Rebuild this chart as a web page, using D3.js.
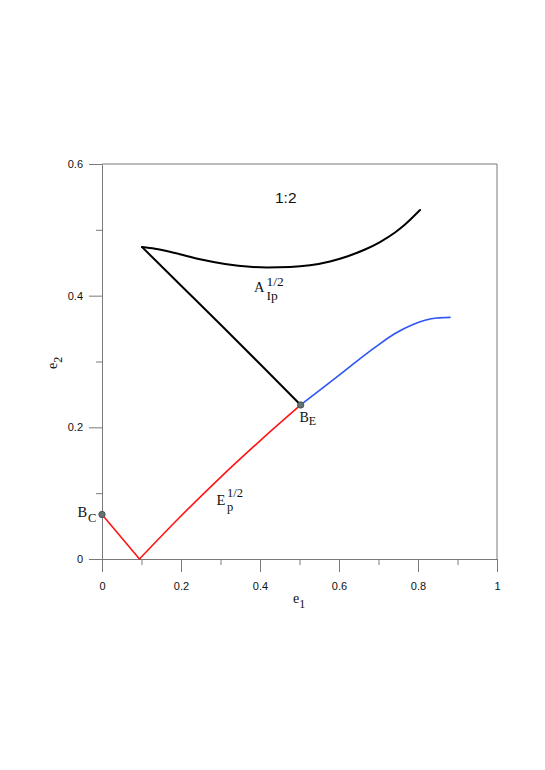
<html lang="en">
<head>
    <meta charset="utf-8">
    <title>1:2 resonance branches</title>
    <style>
        body {
            margin: 0;
            background-color: white;
        }
        .tick text {
            font-family: "Liberation Sans", Arial, sans-serif;
            font-size: 11px;
            fill: #111;
        }
        .math {
            font-family: "Liberation Serif", "Times New Roman", serif;
            fill: #111;
        }
    </style>
</head>
<body>
<div id="chart"></div>
<script src="https://d3js.org/d3.v7.min.js"></script>
<script>
    // axis ticks
    var e1Major = [0, 0.2, 0.4, 0.6, 0.8, 1];
    var e1MajorLabels = ["0", "0.2", "0.4", "0.6", "0.8", "1"];
    var e1Minor = [0.1, 0.3, 0.5, 0.7, 0.9];
    var e2Major = [0, 0.2, 0.4, 0.6];
    var e2MajorLabels = ["0", "0.2", "0.4", "0.6"];
    var e2Minor = [0.1, 0.3, 0.5];

    // E_p^{1/2}, red part (B_C -> vertex -> B_E)
    var redE1 = [0, 0.0949, 0.1962, 0.2987, 0.3987, 0.503];
    var redE2 = [0.0676, 0, 0.063, 0.1233, 0.1788, 0.234];

    // E_p^{1/2}, blue part (B_E -> end)
    var blueE1 = [0.503, 0.5646, 0.6278, 0.6911, 0.7418, 0.7873, 0.8177, 0.8481, 0.881];
    var blueE2 = [0.234, 0.2625, 0.2923, 0.3214, 0.3425, 0.3562, 0.3626, 0.3661, 0.3671];

    // A_Ip^{1/2}, black lower branch (cusp -> B_E)
    var blackLowE1 = [0.1013, 0.2101, 0.3063, 0.4051, 0.503];
    var blackLowE2 = [0.4739, 0.4094, 0.3524, 0.2932, 0.234];

    // A_Ip^{1/2}, black upper branch (cusp -> end)
    var blackUpE1 = [0.1013, 0.1342, 0.1848, 0.2481, 0.3114, 0.3747, 0.4177, 0.4759, 0.5266,
        0.5772, 0.6203, 0.6658, 0.7038, 0.7418, 0.7671, 0.8051];
    var blackUpE2 = [0.4739, 0.4713, 0.4648, 0.4552, 0.4481, 0.4438, 0.4429, 0.4435, 0.4461,
        0.4519, 0.4595, 0.4701, 0.4815, 0.496, 0.5081, 0.5301];

    // bifurcation points B_C and B_E
    var pointNames = ["C", "E"];
    var pointE1 = [0, 0.503];
    var pointE2 = [0.0676, 0.234];

    var width = 545, height = 770;
    var axisColor = "#7a7a7a";

    var svg = d3.select("#chart").append("svg")
        .attr("width", width)
        .attr("height", height);

    var x = d3.scaleLinear().domain([0, 1]).range([102, 497]);
    var y = d3.scaleLinear().domain([0, 0.6]).range([559, 164]);

    var zip = (a, b) => a.map((v, i) => [v, b[i]]);

    // frame (top and right)
    svg.append("line")
        .attr("x1", x(0)).attr("x2", x(1))
        .attr("y1", y(0.6)).attr("y2", y(0.6))
        .attr("stroke", axisColor);
    svg.append("line")
        .attr("x1", x(1)).attr("x2", x(1))
        .attr("y1", y(0.6)).attr("y2", y(0))
        .attr("stroke", axisColor);

    // bottom axis
    svg.append("g")
        .attr("transform", "translate(0," + y(0) + ")")
        .call(d3.axisBottom(x).tickValues(e1Major)
            .tickFormat((d, i) => e1MajorLabels[i])
            .tickSize(13).tickSizeOuter(0).tickPadding(10));
    svg.append("g")
        .attr("transform", "translate(0," + y(0) + ")")
        .call(d3.axisBottom(x).tickValues(e1Minor).tickFormat("")
            .tickSize(6).tickSizeOuter(0))
        .select(".domain").remove();

    // left axis
    svg.append("g")
        .attr("transform", "translate(" + x(0) + ",0)")
        .call(d3.axisLeft(y).tickValues(e2Major)
            .tickFormat((d, i) => e2MajorLabels[i])
            .tickSize(13).tickSizeOuter(0).tickPadding(6));
    svg.append("g")
        .attr("transform", "translate(" + x(0) + ",0)")
        .call(d3.axisLeft(y).tickValues(e2Minor).tickFormat("")
            .tickSize(6).tickSizeOuter(0))
        .select(".domain").remove();

    svg.selectAll(".domain, .tick line").attr("stroke", axisColor);

    // curves
    var line = d3.line()
        .x(d => x(d[0]))
        .y(d => y(d[1]))
        .curve(d3.curveMonotoneX);

    var drawCurve = function(pts, color, w) {
        svg.append("path")
            .datum(pts)
            .attr("d", line)
            .attr("fill", "none")
            .attr("stroke", color)
            .attr("stroke-width", w)
            .attr("stroke-linejoin", "round")
            .attr("stroke-linecap", "round");
    };

    drawCurve(zip(redE1.slice(0, 2), redE2.slice(0, 2)), "#ff1414", 1.6);
    drawCurve(zip(redE1.slice(1), redE2.slice(1)), "#ff1414", 1.6);
    drawCurve(zip(blueE1, blueE2), "#3055f5", 1.6);
    drawCurve(zip(blackLowE1, blackLowE2), "#000", 2);
    drawCurve(zip(blackUpE1, blackUpE2), "#000", 2);

    svg.selectAll(".bpoint")
        .data(zip(pointE1, pointE2))
        .enter()
        .append("circle")
        .classed("bpoint", true)
        .attr("cx", d => x(d[0]))
        .attr("cy", d => y(d[1]))
        .attr("r", 3.2)
        .attr("fill", "#627373")
        .attr("stroke", "#3b4646")
        .attr("stroke-width", 0.8);

    // labels: base letter with stacked superscript / subscript
    var mathLabel = function(px, py, base, sup, sub, opt) {
        var t = svg.append("text")
            .classed("math", true)
            .attr("x", px)
            .attr("y", py)
            .attr("font-size", opt.size);
        t.append("tspan").text(base);
        var sx = px + opt.shift;
        if (sup) {
            t.append("tspan").attr("x", sx).attr("y", py - opt.up)
                .attr("font-size", opt.small).text(sup);
        }
        if (sub) {
            t.append("tspan").attr("x", sx).attr("y", py + opt.down)
                .attr("font-size", opt.small).text(sub);
        }
    };

    mathLabel(254, 292, "A", "1/2", "Ip", {size: 14.5, small: 13.5, shift: 12.5, up: 6, down: 7.5});
    mathLabel(216.5, 505, "E", "1/2", "p", {size: 14.5, small: 12.5, shift: 10.5, up: 8, down: 6});
    mathLabel(299.5, 421.7, "B", null, pointNames[1], {size: 14, small: 12, shift: 9.3, up: 0, down: 3});
    mathLabel(77.5, 517, "B", null, pointNames[0], {size: 14.5, small: 12.5, shift: 10.5, up: 0, down: 4.5});

    // axis titles
    var e1Label = svg.append("text")
        .classed("math", true)
        .attr("x", 293)
        .attr("y", 603)
        .attr("font-size", 14);
    e1Label.append("tspan").text("e");
    e1Label.append("tspan").attr("dy", 4.5).attr("font-size", 12).text("1");

    var e2Label = svg.append("text")
        .classed("math", true)
        .attr("transform", "translate(57,369) rotate(-90)")
        .attr("font-size", 14);
    e2Label.append("tspan").text("e");
    e2Label.append("tspan").attr("dy", 4.5).attr("font-size", 12).text("2");

    // resonance title
    svg.append("text")
        .attr("x", 275)
        .attr("y", 203.3)
        .attr("font-family", "'Liberation Sans', Arial, sans-serif")
        .attr("font-size", 15.5)
        .attr("fill", "#111")
        .text("1:2");
</script>
</body>
</html>
